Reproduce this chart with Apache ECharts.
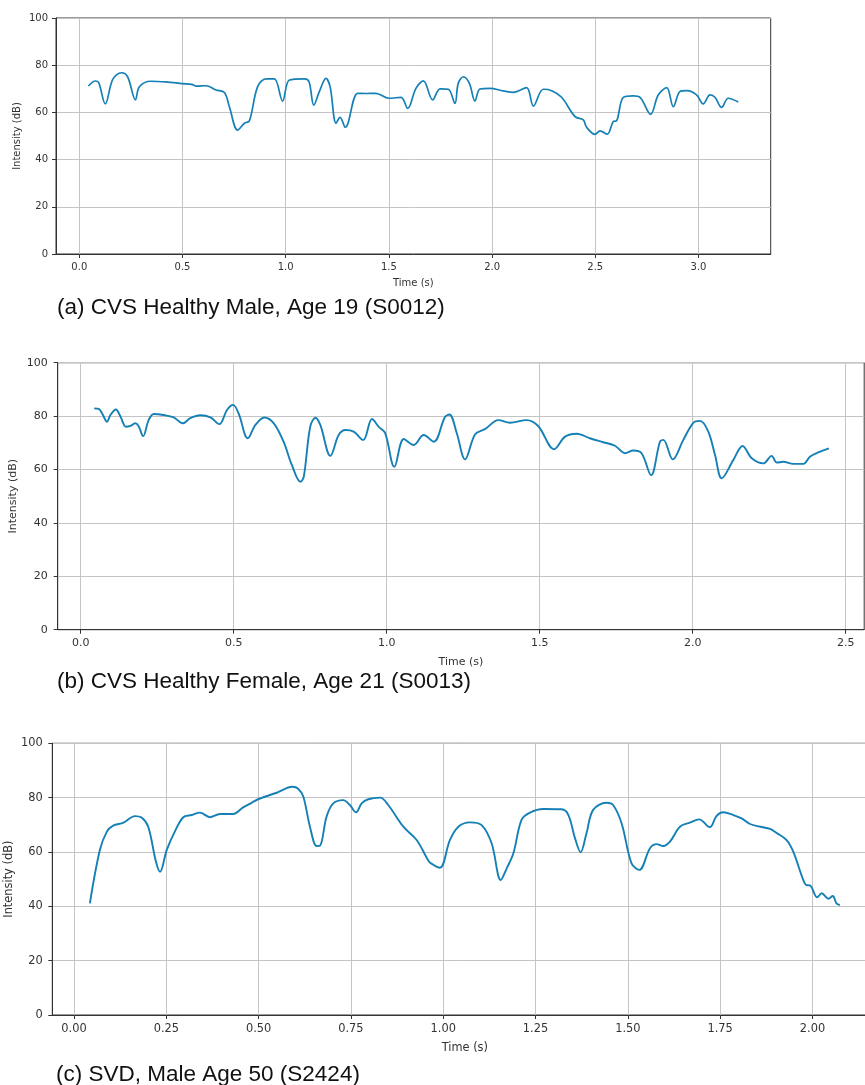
<!DOCTYPE html>
<html>
<head>
<meta charset="utf-8">
<script src="https://cdn.jsdelivr.net/npm/echarts@6/dist/echarts.min.js"></script>
<style>
html,body{margin:0;padding:0;background:#fff;}
#chart{width:865px;height:1085px;}
</style>
</head>
<body>
<div id="chart"></div>
<script>
// ---- Data (time in s, intensity in dB) ----
const maleData = [[0.044,71.2],[0.078,73.3],[0.094,72.6],[0.126,63.6],[0.162,74],[0.204,76.8],[0.234,75.1],[0.272,65.3],[0.291,70.9],[0.347,73.2],[0.42,72.9],[0.50,72.2],[0.549,71.8],[0.565,71.1],[0.614,71.3],[0.662,69.5],[0.703,68.4],[0.727,62.4],[0.767,52.5],[0.80,55.4],[0.824,56.4],[0.864,70.9],[0.905,74.2],[0.945,74.2],[0.985,64.8],[1.018,73.7],[1.09,74.2],[1.113,73],[1.136,63.1],[1.163,68.8],[1.195,74.4],[1.215,70.9],[1.244,55.4],[1.263,57.9],[1.289,53.7],[1.349,68.1],[1.39,68],[1.437,68.1],[1.50,66],[1.559,66.4],[1.591,61.7],[1.631,70.2],[1.667,73.4],[1.712,65.3],[1.748,70],[1.788,69.8],[1.82,63.8],[1.836,72.3],[1.861,75.1],[1.89,72.3],[1.917,64.8],[1.941,69.9],[1.99,70.2],[2.054,69.1],[2.103,68.5],[2.167,70.5],[2.2,62.7],[2.248,69.8],[2.289,69.2],[2.337,66.4],[2.402,58.2],[2.442,56.8],[2.458,53.7],[2.499,50.7],[2.523,52.2],[2.558,50.8],[2.587,56.1],[2.604,56.5],[2.636,66.4],[2.684,67],[2.717,66.4],[2.768,59.2],[2.805,67.4],[2.846,70.5],[2.878,62.4],[2.91,68.8],[2.943,69.2],[2.991,67.4],[3.023,63.6],[3.056,67.4],[3.08,66.4],[3.112,62.1],[3.144,66],[3.193,64.4]];

const femaleData = [[0.044,82.9],[0.059,82.7],[0.07,81],[0.086,77.9],[0.097,80.4],[0.115,82.5],[0.13,79.8],[0.148,76],[0.162,76.3],[0.178,77.3],[0.189,76.3],[0.204,72.5],[0.222,78.5],[0.239,80.8],[0.271,80.4],[0.304,79.5],[0.334,77.3],[0.358,79.2],[0.391,80.3],[0.424,79.5],[0.453,77],[0.478,82.3],[0.498,84.2],[0.516,81],[0.546,71.7],[0.571,76.7],[0.6,79.5],[0.631,77.3],[0.663,70.4],[0.69,61.7],[0.718,55.4],[0.729,57.3],[0.75,76],[0.767,79.4],[0.783,76.7],[0.816,65.1],[0.843,72.9],[0.865,74.8],[0.892,74.2],[0.923,71],[0.952,78.9],[0.974,76],[0.995,73.6],[1.025,61],[1.056,71.4],[1.088,69.2],[1.121,72.9],[1.154,70.4],[1.19,79.6],[1.205,80.6],[1.229,73.6],[1.256,63.8],[1.289,73.2],[1.321,75.1],[1.365,78.5],[1.403,77.5],[1.457,78.5],[1.495,76.3],[1.547,67.6],[1.583,72.3],[1.621,73.4],[1.664,71.7],[1.708,70.2],[1.746,68.9],[1.779,66.1],[1.806,67.1],[1.833,66.1],[1.864,57.9],[1.893,70.4],[1.904,71.1],[1.935,63.8],[1.969,71],[2.002,77.5],[2.024,78.2],[2.051,74.2],[2.073,65.4],[2.095,56.7],[2.133,63.6],[2.163,68.8],[2.193,64.2],[2.231,62.3],[2.258,65.1],[2.275,62.6],[2.296,62.9],[2.329,62.1],[2.362,62.1],[2.383,64.8],[2.41,66.4],[2.445,67.9]];

const svdData = [[0.043,41.1],[0.07,60.7],[0.089,67.5],[0.106,69.7],[0.134,70.8],[0.165,73.2],[0.183,72.7],[0.201,69.3],[0.222,56.4],[0.233,52.7],[0.251,60.7],[0.273,67.5],[0.296,72.8],[0.319,73.6],[0.341,74.5],[0.368,72.8],[0.395,74],[0.431,74],[0.458,76.4],[0.481,78.1],[0.50,79.5],[0.549,81.8],[0.592,84],[0.607,83.3],[0.621,80.4],[0.639,69.3],[0.657,62.2],[0.666,62.3],[0.684,73],[0.702,77.9],[0.729,79.1],[0.747,77.3],[0.764,74.6],[0.779,77.9],[0.797,79.4],[0.829,80],[0.851,77.3],[0.892,69.3],[0.928,64.4],[0.959,57],[0.968,55.7],[0.991,54.2],[1.018,64.4],[1.041,69.3],[1.072,70.9],[1.104,69.9],[1.131,63.2],[1.156,49.7],[1.172,54],[1.19,59.5],[1.212,71.8],[1.235,74.5],[1.271,75.8],[1.321,75.7],[1.339,73.6],[1.357,65],[1.372,59.9],[1.388,66.9],[1.406,75.5],[1.442,78.1],[1.46,77.3],[1.483,70.6],[1.51,55.8],[1.531,53.4],[1.56,61.4],[1.578,62.9],[1.596,62.2],[1.614,63.8],[1.641,69.3],[1.668,70.8],[1.693,72],[1.722,69.1],[1.74,73.2],[1.758,74.6],[1.786,73.6],[1.808,72.4],[1.831,70.3],[1.858,69.3],[1.885,68.5],[1.902,67.1],[1.93,64.4],[1.948,60.1],[1.975,49.7],[1.984,47.8],[1.993,47.7],[2.013,43.3],[2.025,44.8],[2.043,42.8],[2.055,43.8],[2.065,41.1],[2.074,40.5]];

// ---- Tick labels ----
const maleTicks = [0, 0.5, 1.0, 1.5, 2.0, 2.5, 3.0];
const femaleTicks = [0, 0.5, 1.0, 1.5, 2.0, 2.5];
const svdTicks = [0, 0.25, 0.5, 0.75, 1.0, 1.25, 1.5, 1.75, 2.0];
const captions = [
  '(a) CVS Healthy Male, Age 19 (S0012)',
  '(b) CVS Healthy Female, Age 21 (S0013)',
  '(c) SVD, Male Age 50 (S2424)'
];
const xName = 'Time (s)';
const yName = 'Intensity (dB)';

// ---- Layout / style ----
const AX = '#333333';
const GRID = '#c4c4c4';
const LINE = '#1580b5';
const TF = 'DejaVu Sans';

function xAxis(gi, min, max, ticks, dec, fs, nameGap, margin) {
  return {
    type: 'value', gridIndex: gi, min: min, max: max,
    name: xName, nameLocation: 'middle', nameGap: nameGap, nameMoveOverlap: false,
    nameTextStyle: { fontFamily: TF, fontSize: fs, color: AX },
    axisLine: { show: true, onZero: false, lineStyle: { color: AX, width: 1 } },
    axisTick: { show: true, inside: false, length: 4, customValues: ticks, lineStyle: { color: AX, width: 1 } },
    axisLabel: { customValues: ticks, formatter: v => Number(v).toFixed(dec), margin: margin,
                 fontFamily: TF, fontSize: fs, color: AX },
    splitLine: { show: true, lineStyle: { color: GRID, width: 1 } }
  };
}
function yAxis(gi, fs, nameGap, margin) {
  return {
    type: 'value', gridIndex: gi, min: 0, max: 100, interval: 20,
    name: yName, nameLocation: 'middle', nameGap: nameGap, nameMoveOverlap: false,
    nameTextStyle: { fontFamily: TF, fontSize: fs, color: AX },
    axisLine: { show: true, onZero: false, lineStyle: { color: AX, width: 1 } },
    axisTick: { show: true, inside: false, length: 4, lineStyle: { color: AX, width: 1 } },
    axisLabel: { margin: margin, fontFamily: TF, fontSize: fs, color: AX },
    splitLine: { show: true, lineStyle: { color: GRID, width: 1 } }
  };
}
function series(gi, data, w) {
  return {
    type: 'line', xAxisIndex: gi, yAxisIndex: gi, data: data,
    showSymbol: false, symbol: 'none', smooth: 0.35,
    lineStyle: { color: LINE, width: w }, z: 3
  };
}
function caption(text, left, top) {
  return { text: text, left: left, top: top, padding: 0,
           textStyle: { fontFamily: 'Liberation Sans', fontSize: 22.5, fontWeight: 'normal', color: '#111' } };
}
const gridStyle = { show: true, borderColor: AX, borderWidth: 1, backgroundColor: 'transparent',
                    containLabel: false, outerBoundsMode: 'none' };

const chart = echarts.init(document.getElementById('chart'), null, { renderer: 'canvas' });
chart.setOption({
  animation: false,
  backgroundColor: '#ffffff',
  title: [
    caption(captions[0], 57, 296),
    caption(captions[1], 57, 670),
    caption(captions[2], 56, 1063)
  ],
  grid: [
    Object.assign({ left: 56, top: 18, width: 714.7, height: 236 }, gridStyle),
    Object.assign({ left: 57.7, top: 362.7, width: 806.5, height: 267 }, gridStyle),
    Object.assign({ left: 52.3, top: 743.3, width: 825, height: 271.7 }, gridStyle)
  ],
  xAxis: [
    xAxis(0, -0.113, 3.35, maleTicks, 1, 10, 24, 8),
    xAxis(1, -0.0752, 2.5605, femaleTicks, 1, 11, 26.5, 8),
    xAxis(2, -0.0588, 2.1756, svdTicks, 2, 11.4, 28, 8.5)
  ],
  yAxis: [
    yAxis(0, 10, 34, 8),
    yAxis(1, 11, 39, 10),
    yAxis(2, 11.4, 38, 9.5)
  ],
  series: [
    series(0, maleData, 1.7),
    series(1, femaleData, 1.9),
    series(2, svdData, 1.9)
  ]
});
</script>
</body>
</html>
